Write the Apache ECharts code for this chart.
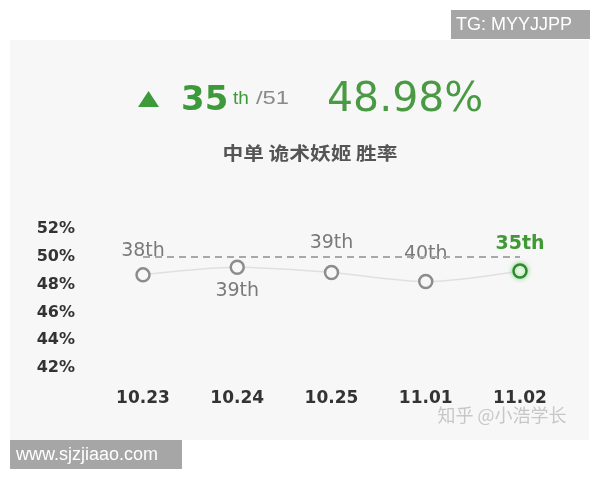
<!DOCTYPE html>
<html>
<head>
<meta charset="utf-8">
<script src="https://cdn.jsdelivr.net/npm/echarts@6/dist/echarts.min.js"></script>
<style>html,body{margin:0;padding:0;background:#fff;}#c{width:600px;height:480px;}</style>
</head>
<body>
<div id="c"></div>
<script>
// ---- data ----
var categories = ['10.23', '10.24', '10.25', '11.01', '11.02'];
var winRates = [48.70, 49.25, 48.87, 48.22, 48.98];
var ranks = ['38th', '39th', '39th', '40th', '35th'];
var averageRate = 50;
var yTicks = { min: 42, max: 52, interval: 2 };
var headRank = '35';
var headTotal = '/51';
var headRate = '48.98%';
var subtitle = '中单 诡术妖姬 胜率';

// ---- styling (not data) ----
var labelPos = ['top', 'bottom', 'top', 'top', 'top'];
var labelDist = [7, 7, 12, 10, 10];
var GREEN = '#3d9a3a';
var GRAY = '#7a7a7a';

var seriesData = winRates.map(function (v, i) {
  var last = i === winRates.length - 1;
  return {
    value: v,
    itemStyle: last
      ? { color: '#f4fbf2', borderColor: '#2e8a2e', borderWidth: 2.5, shadowBlur: 5, shadowColor: 'rgba(120,210,120,0.8)' }
      : { color: '#f7f7f7', borderColor: '#8c8c8c', borderWidth: 2.5 },
    label: {
      show: true,
      position: labelPos[i],
      distance: labelDist[i],
      formatter: ranks[i],
      color: last ? '#3f9a35' : GRAY,
      fontWeight: last ? 'bold' : 'normal',
      fontSize: 19,
      fontFamily: 'DejaVu Sans'
    }
  };
});

var chart = echarts.init(document.getElementById('c'), null, { renderer: 'canvas' });
chart.setOption({
  backgroundColor: '#ffffff',
  animation: false,
  grid: { left: 143, right: 80, top: 229, bottom: 112 },
  xAxis: {
    type: 'category',
    data: categories,
    boundaryGap: false,
    axisLine: { show: false },
    axisTick: { show: false },
    axisLabel: { color: '#333', fontSize: 17, fontWeight: 'bold', fontFamily: 'DejaVu Sans', margin: 22 }
  },
  yAxis: {
    type: 'value',
    min: yTicks.min, max: yTicks.max, interval: yTicks.interval,
    splitLine: { show: false },
    axisLine: { show: false },
    axisTick: { show: false },
    axisLabel: { formatter: '{value}%', color: '#333', fontSize: 16, fontWeight: 'bold', fontFamily: 'DejaVu Sans', margin: 68 }
  },
  series: [{
    type: 'line',
    data: seriesData,
    smooth: 0.3,
    symbol: 'circle',
    symbolSize: 13,
    lineStyle: { color: '#e0e0e0', width: 1.5 },
    itemStyle: { color: '#f7f7f7', borderColor: '#8c8c8c', borderWidth: 2.5 },
    markLine: {
      silent: true,
      symbol: 'none',
      label: { show: false },
      lineStyle: { color: '#a8a8a8', type: [7, 5], width: 2 },
      data: [{ yAxis: averageRate }]
    }
  }],
  graphic: [
    { type: 'rect', z: -10, shape: { x: 10, y: 40, width: 579, height: 400 }, style: { fill: '#f7f7f7' } },
    { type: 'rect', shape: { x: 451, y: 10, width: 139, height: 29 }, style: { fill: '#a6a6a6' } },
    { type: 'text', x: 456, y: 25, style: { text: 'TG: MYYJJPP', fill: '#fff', font: '18px "Liberation Sans", Arial, sans-serif', verticalAlign: 'middle' } },
    { type: 'rect', shape: { x: 10, y: 440, width: 172, height: 29 }, style: { fill: '#a6a6a6' } },
    { type: 'text', x: 16, y: 455, style: { text: 'www.sjzjiaao.com', fill: '#fff', font: '18px "Liberation Sans", Arial, sans-serif', verticalAlign: 'middle' } },
    { type: 'polygon', shape: { points: [[138, 107], [159, 107], [148.5, 91]] }, style: { fill: GREEN } },
    { type: 'text', x: 181, y: 101, style: { text: headRank, fill: GREEN, font: 'bold 34px "DejaVu Sans"', verticalAlign: 'middle' } },
    { type: 'text', x: 233, y: 99, style: { text: 'th', fill: GREEN, font: '19px "Liberation Sans", Arial', verticalAlign: 'middle' } },
    { type: 'text', x: 256, y: 99, scaleX: 1.25, style: { text: headTotal, fill: '#8a8a8a', font: '19px "Liberation Sans", Arial', verticalAlign: 'middle' } },
    { type: 'text', x: 327, y: 100, style: { text: headRate, fill: '#4a9a44', font: '41px "DejaVu Sans"', verticalAlign: 'middle' } },
    { type: 'text', x: 310, y: 153, scaleX: 1.15, style: { text: subtitle, fill: '#555', font: 'bold 18px "Noto Sans CJK SC"', align: 'center', verticalAlign: 'middle' } },
    { type: 'text', x: 502, y: 415, z: 100, style: { text: '知乎 @小浩学长', fill: 'rgba(190,190,190,0.85)', font: '18px "Noto Sans CJK SC"', align: 'center', verticalAlign: 'middle' } }
  ]
});
</script>
</body>
</html>
